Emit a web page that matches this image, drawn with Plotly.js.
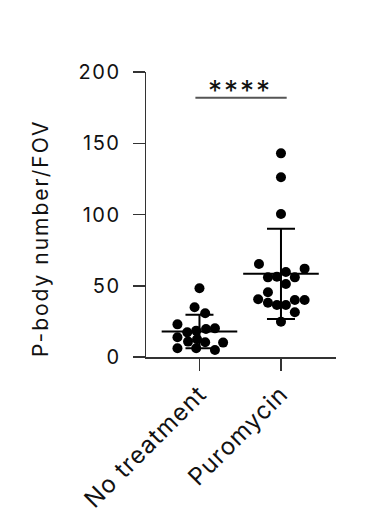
<!DOCTYPE html>
<html><head><meta charset="utf-8">
<script src="https://cdn.plot.ly/plotly-3.0.1.min.js"></script>
<style>
body{margin:0;background:#fff}#c{width:382px;height:515px}
#c .xtick text{letter-spacing:1px}
#c .ytick text{letter-spacing:1.5px}
#c .annotation text{letter-spacing:2px}
</style>
</head><body><div id="c"></div>
<script>
const categories = ["No treatment", "Puromycin"];
const noTreatment = [48.2, 34.9, 30.7, 22.9, 17.3, 18.5, 19.6, 20.1, 13.8, 10.8, 12.4, 10.3, 10.1, 6.1, 6.1, 4.9];
const noTreatmentJitter = [0, -0.06, 0.07, -0.27, -0.15, -0.04, 0.08, 0.19, -0.27, -0.14, -0.03, 0.07, 0.29, -0.27, -0.04, 0.19];
const puromycin = [142.9, 126.1, 100.4, 65.3, 62, 59.6, 55.9, 56.4, 55.9, 51.2, 45.4, 40.5, 38.1, 36.5, 36.5, 40, 40, 31.4, 24.8];
const puromycinJitter = [0, 0, 0, -0.27, 0.29, 0.06, -0.16, -0.05, 0.17, 0.06, -0.16, -0.28, -0.16, -0.05, 0.06, 0.17, 0.29, 0.17, 0];
const yTicks = [0, 50, 100, 150, 200];
const yTitle = "P-body number/FOV";
const sigLabel = "****";
const sigY = 182;

function mean(a){return a.reduce((s,v)=>s+v,0)/a.length;}
function sd(a){const m=mean(a);return Math.sqrt(a.reduce((s,v)=>s+(v-m)*(v-m),0)/(a.length-1));}

const groups = [noTreatment, puromycin];
const jitters = [noTreatmentJitter, puromycinJitter];
const traces = [];
groups.forEach((g,i)=>{
  traces.push({
    type:'scatter', mode:'markers', cliponaxis:false,
    x: g.map((v,k)=>i+jitters[i][k]), y: g,
    marker:{color:'#000', size:10, line:{width:0}},
    hoverinfo:'y', showlegend:false
  });
});
const means = groups.map(mean), sds = groups.map(sd);
traces.push({
  type:'scatter', mode:'markers', cliponaxis:false,
  x:[0,1], y:means,
  marker:{symbol:'line-ew-open', size:54, color:'#000', line:{width:2, color:'#000'}},
  error_y:{type:'data', array:sds, visible:true, thickness:2, width:14, color:'#000'},
  showlegend:false, hoverinfo:'y'
});
traces.push({
  type:'scatter', mode:'lines', cliponaxis:false,
  x:[-0.05, 1.07], y:[sigY, sigY],
  line:{color:'#555', width:2}, showlegend:false, hoverinfo:'skip'
});

const font = "Inter, 'Open Sans', sans-serif";
const layout = {
  width:382, height:515,
  margin:{l:146, r:46, t:72, b:158},
  paper_bgcolor:'#fff', plot_bgcolor:'#fff',
  font:{family:font, color:'#111', size:20},
  xaxis:{
    range:[-0.656, 1.675], tickvals:[0,1], ticktext:categories,
    tickangle:-45, ticks:'outside', ticklen:12, tickwidth:1.5, tickcolor:'#333',
    showline:true, linecolor:'#333', linewidth:1.5, showgrid:false, zeroline:false,
    tickfont:{size:24, family:font, color:'#111'}, fixedrange:true
  },
  yaxis:{
    range:[0,200], tickvals:yTicks, ticks:'outside', ticklen:12, tickwidth:1.5, tickcolor:'#333',
    showline:true, linecolor:'#333', linewidth:1.5, showgrid:false, zeroline:false,
    ticklabelstandoff:8,
    tickfont:{size:20, family:font, color:'#111'},
    fixedrange:true
  },
  annotations:[{
    x:0.5, y:sigY, xref:'x', yref:'y', text:sigLabel, showarrow:false,
    yanchor:'bottom', yshift:-12, font:{size:28, family:font, color:'#111'}
  },{
    x:-0.558, y:0.4175, xref:'paper', yref:'paper', text:yTitle, showarrow:false,
    textangle:-90, xanchor:'center', yanchor:'middle',
    font:{size:21, family:font, color:'#111'}
  }]
};
Plotly.newPlot('c', traces, layout, {displayModeBar:false, staticPlot:true});
</script></body></html>
